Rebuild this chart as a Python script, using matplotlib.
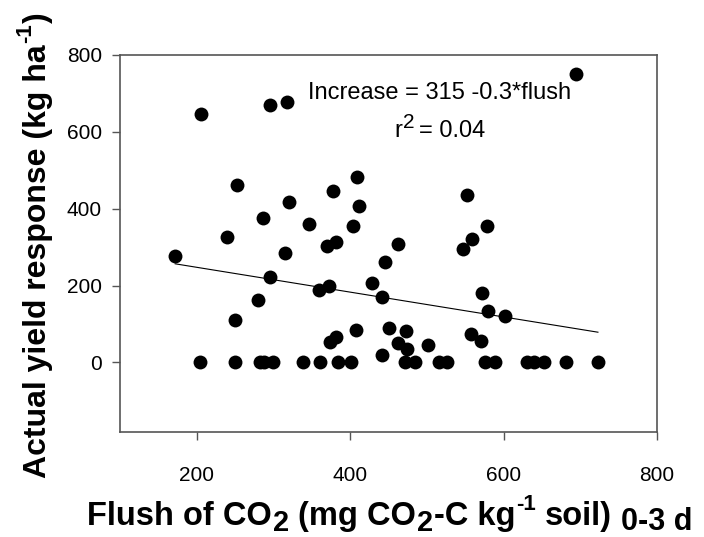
import matplotlib
matplotlib.use("Agg")
import matplotlib.pyplot as plt
import numpy as np

plt.rcParams['font.family'] = ['Liberation Sans', 'DejaVu Sans']

# Data (flush of CO2 vs actual yield response)
flush = [206, 296, 318, 694, 409, 252, 378, 552, 320, 411, 287, 347, 404, 579,
         240, 381, 559, 370, 462, 547, 315, 172, 445, 296, 428, 373, 359, 572,
         441, 280, 580, 602, 250, 407, 451, 473, 557, 381, 374, 462, 570, 501,
         474, 442,
         204, 250, 282, 288, 300, 338, 361, 384, 401, 472, 484, 516, 526, 576,
         589, 630, 640, 653, 681, 723]
response = [647, 671, 678, 750, 482, 462, 447, 436, 417, 408, 375, 360, 356, 355,
            325, 314, 322, 303, 308, 296, 284, 277, 261, 221, 206, 199, 188, 180,
            171, 163, 133, 120, 109, 83, 90, 81, 73, 67, 52, 50, 56, 44,
            35, 18,
            0, 0, 0, 0, 0, 0, 0, 0, 0, 0, 0, 0, 0, 0,
            0, 0, 0, 0, 0, 0]

fit_intercept = 312
fit_slope = -0.323

x_ticks = [200, 400, 600, 800]
y_ticks = [0, 200, 400, 600, 800]

W, H = 704, 537
fig = plt.figure(figsize=(W/100, H/100), dpi=100)
ax = fig.add_axes([120/W, 1-431.5/H, (657-120)/W, (431.5-55)/H])

ax.scatter(flush, response, s=100, color='black', zorder=3, linewidths=0)
xl = np.array([min(flush), max(flush)])
ax.plot(xl, fit_intercept + fit_slope*xl, color='black', lw=0.8, zorder=2)

ax.set_xlim(100, 800)
ax.set_ylim(-180, 800)
ax.set_xticks(x_ticks)
ax.set_yticks(y_ticks)
ax.tick_params(axis='both', direction='out', length=6, width=1, colors='#555555',
               labelcolor='black', labelsize=15)
ax.tick_params(axis='x', pad=19)
ax.tick_params(axis='y', pad=7)
for s in ax.spines.values():
    s.set_color('#555555')
    s.set_linewidth(1.2)

renderer = fig.canvas.get_renderer()


def piece_widths(pieces, weight):
    ws = []
    for txt, fs, sh, gap in pieces:
        t = fig.text(0, 0, txt, fontsize=fs, fontweight=weight)
        ws.append(t.get_window_extent(renderer).width)
        t.remove()
    return ws


def draw_pieces(pieces, cx, base, rotation=0, weight='normal'):
    """Place text pieces with per-piece size and baseline shift (pixels).
    cx: centre along the reading direction, base: baseline position (pixels)."""
    ws = piece_widths(pieces, weight)
    total = sum(ws) + sum(p[3] for p in pieces)
    pos = cx - total/2
    for (txt, fs, sh, gap), w in zip(pieces, ws):
        pos += gap
        if rotation == 0:
            x, y = pos, base + sh
        else:
            x, y = base - sh, pos
        fig.text(x/W, y/H, txt, fontsize=fs, fontweight=weight,
                 rotation=rotation, rotation_mode='anchor',
                 ha='left', va='baseline')
        pos += w


# annotation
ax.text(517, 702, 'Increase = 315 -0.3*flush', ha='center', va='center', fontsize=17)
r2_pieces = [('r', 17, 0, 0), ('2', 15, 9, 0.5), ('= 0.04', 17, 0, 5)]
draw_pieces(r2_pieces, 440, H-137, 0, 'normal')

# x label
xlab = [('Flush of CO', 23.5, 0, 0), ('2', 21, -6, 1), ('(mg CO', 23.5, 0, 9),
        ('2', 21, -6, 1), ('-C kg', 23.5, 0, 1), ('-1', 16, 15, 1),
        ('soil)', 23.5, 0, 9), ('0-3 d', 22, -5, 9)]
draw_pieces(xlab, 390, H-525, 0, 'bold')

# y label
ylab = [('Actual yield response (kg ha', 23, 0, 0), ('-1', 16, 15, 1), (')', 23, 0, 1)]
draw_pieces(ylab, H-245, 46, 90, 'bold')

fig.savefig('out.png', dpi=100)
